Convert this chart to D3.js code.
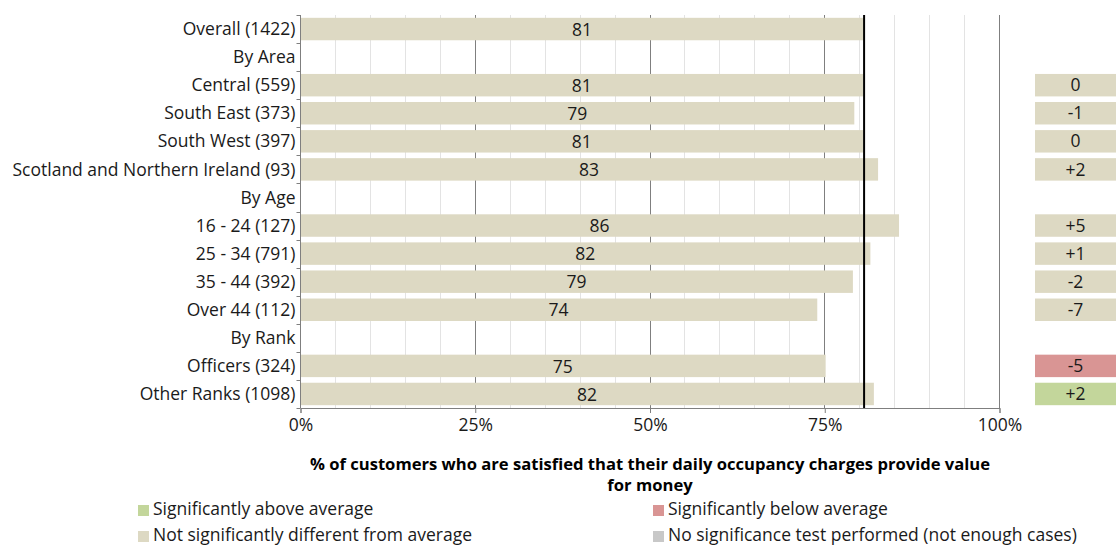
<!DOCTYPE html>
<html>
<head>
<meta charset="utf-8">
<script src="https://cdn.jsdelivr.net/npm/d3@7"></script>
<style>
  html, body { margin: 0; padding: 0; background: #fff; }
  svg { display: block; font-family: "Open Sans", Lato, sans-serif; }
</style>
</head>
<body>
<svg id="chart" width="1120" height="546"></svg>
<script>
// ---- data ----
const categories = ["Overall (1422)", "By Area", "Central (559)", "South East (373)", "South West (397)",
  "Scotland and Northern Ireland (93)", "By Age", "16 - 24 (127)", "25 - 34 (791)", "35 - 44 (392)",
  "Over 44 (112)", "By Rank", "Officers (324)", "Other Ranks (1098)"];
const values = [80.7, null, 80.6, 79.3, 80.6, 82.7, null, 85.7, 81.6, 79.1, 74.0, null, 75.2, 82.1];
const differences = [null, null, "0", "-1", "0", "+2", null, "+5", "+1", "-2", "-7", null, "-5", "+2"];
const significance = [null, null, "none", "none", "none", "none", null, "none", "none", "none", "none", null, "below", "above"];
const averageValue = 80.7;
const xTicks = [0, 25, 50, 75, 100];
const minorTicks = d3.range(0, 101, 5);
const titleLines = ["% of customers who are satisfied that their daily occupancy charges provide value", "for money"];
const legendItems = [
  {label: "Significantly above average", key: "above"},
  {label: "Significantly below average", key: "below"},
  {label: "Not significantly different from average", key: "none"},
  {label: "No significance test performed (not enough cases)", key: "notest"}
];

// ---- styles ----
const colors = {above: "#c3d69b", below: "#d99594", none: "#ddd9c3", notest: "#c8c8c8"};
const fontSize = 17.5;
const titleSize = 16.6;

const svg = d3.select("#chart");
const pLeft = 300, pRight = 999, pTop = 15, pBottom = 408;

const x = d3.scaleLinear().domain([0, 100]).range([pLeft, pRight]);
const y = d3.scaleBand().domain(categories).range([pTop, pBottom]).paddingInner(0.2).paddingOuter(0.1);

// gridlines (minor)
svg.append("g").selectAll("line").data(minorTicks.filter(d => d % 25 !== 0))
  .join("line")
  .attr("x1", d => Math.round(x(d)) + 0.5).attr("x2", d => Math.round(x(d)) + 0.5)
  .attr("y1", pTop).attr("y2", pBottom)
  .attr("stroke", "#e3e3e3").attr("stroke-width", 1);
// major gridlines
svg.append("g").selectAll("line").data(xTicks.filter(d => d > 0))
  .join("line")
  .attr("x1", d => Math.round(x(d)) + 0.5).attr("x2", d => Math.round(x(d)) + 0.5)
  .attr("y1", pTop).attr("y2", pBottom)
  .attr("stroke", "#7f7f7f").attr("stroke-width", 1);

const rows = categories.map((c, i) => ({cat: c, v: values[i], diff: differences[i], sig: significance[i]}));
const dataRows = rows.filter(r => r.v !== null);

// bars
svg.append("g").selectAll("rect").data(dataRows).join("rect")
  .attr("x", x(0) + 1)
  .attr("y", d => y(d.cat))
  .attr("width", d => x(d.v) - x(0) - 1)
  .attr("height", y.bandwidth())
  .attr("fill", colors.none);

// bar labels
svg.append("g").selectAll("text").data(dataRows).join("text")
  .attr("x", d => (x(0) + x(d.v)) / 2)
  .attr("y", d => y(d.cat) + y.bandwidth() / 2)
  .attr("dy", "0.38em")
  .attr("text-anchor", "middle")
  .attr("font-size", fontSize).attr("fill", "#1a1a1a")
  .text(d => Math.round(d.v));

// average line
svg.append("line")
  .attr("x1", x(averageValue)).attr("x2", x(averageValue))
  .attr("y1", pTop).attr("y2", pBottom)
  .attr("stroke", "#000").attr("stroke-width", 2);

// y axis
const yAxis = svg.append("g").attr("transform", `translate(${pLeft + 0.5},0)`);
yAxis.append("line").attr("x1", 0).attr("x2", 0).attr("y1", pTop).attr("y2", pBottom).attr("stroke", "#7f7f7f");
yAxis.selectAll("line.tk").data(d3.range(categories.length + 1)).join("line").attr("class", "tk")
  .attr("x1", -4).attr("x2", 0)
  .attr("y1", i => Math.round(pTop + i * (pBottom - pTop) / categories.length) + 0.5)
  .attr("y2", i => Math.round(pTop + i * (pBottom - pTop) / categories.length) + 0.5)
  .attr("stroke", "#7f7f7f");
yAxis.selectAll("text").data(categories).join("text")
  .attr("x", -5)
  .attr("y", d => y(d) + y.bandwidth() / 2)
  .attr("dy", "0.35em")
  .attr("text-anchor", "end")
  .attr("font-size", fontSize).attr("fill", "#1a1a1a")
  .text(d => d);

// x axis
const xAxis = d3.axisBottom(x).tickValues(xTicks).tickFormat(d => d + "%").tickSize(5).tickPadding(6);
const gx = svg.append("g").attr("transform", `translate(0.5,${pBottom})`).call(xAxis);
gx.select(".domain").attr("stroke", "#7f7f7f");
gx.selectAll(".tick line").attr("stroke", "#7f7f7f");
gx.selectAll(".tick text").attr("font-size", fontSize).attr("fill", "#1a1a1a").attr("font-family", "Open Sans");

// difference boxes
const diffRows = rows.filter(r => r.diff !== null);
const boxX = 1035, boxW = 81;
svg.append("g").selectAll("rect").data(diffRows).join("rect")
  .attr("x", boxX).attr("y", d => y(d.cat))
  .attr("width", boxW).attr("height", y.bandwidth())
  .attr("fill", d => colors[d.sig]);
svg.append("g").selectAll("text").data(diffRows).join("text")
  .attr("x", boxX + boxW / 2)
  .attr("y", d => y(d.cat) + y.bandwidth() / 2)
  .attr("dy", "0.35em")
  .attr("text-anchor", "middle")
  .attr("font-size", fontSize).attr("fill", "#1a1a1a")
  .text(d => d.diff);

// title
svg.append("g").selectAll("text").data(titleLines).join("text")
  .attr("x", 650).attr("y", (d, i) => 470 + i * 21)
  .attr("text-anchor", "middle")
  .attr("font-size", titleSize).attr("font-weight", "bold").attr("fill", "#000")
  .text(d => d);

// legend
const legendPos = [[138, 515], [653, 515], [138, 541], [653, 541]];
const lg = svg.append("g").selectAll("g").data(legendItems).join("g")
  .attr("transform", (d, i) => `translate(${legendPos[i][0]},${legendPos[i][1]})`);
lg.append("rect").attr("x", 0).attr("y", -10).attr("width", 11).attr("height", 11).attr("fill", d => colors[d.key]);
lg.append("text").attr("x", 15).attr("y", 0)
  .attr("font-size", fontSize).attr("fill", "#1a1a1a").text(d => d.label);
</script>
</body>
</html>
